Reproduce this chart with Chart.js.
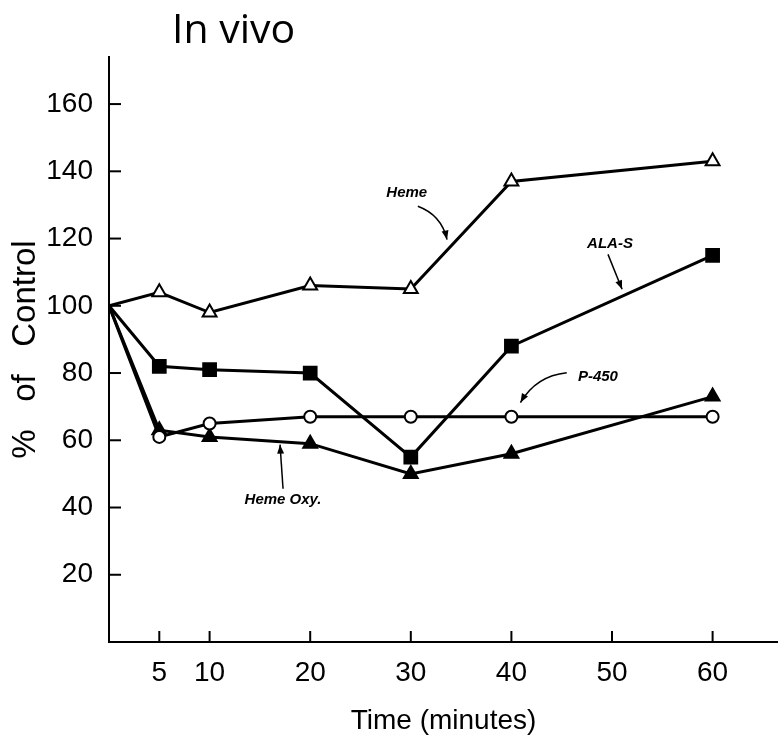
<!DOCTYPE html>
<html>
<head>
<meta charset="utf-8">
<script src="https://cdn.jsdelivr.net/npm/chart.js@4.4.1/dist/chart.umd.min.js"></script>
<style>
  html, body { margin: 0; padding: 0; background: #fff; }
  #wrap { position: relative; width: 778px; height: 738px; }
  #title {
    position: absolute; left: 172px; top: 7px;
    font: 41px "Open Sans", sans-serif; line-height: 41px; color: #000;
  }
</style>
</head>
<body>
<div id="wrap">
  <canvas id="chart" width="778" height="738"></canvas>
  <div id="title">In vivo</div>
</div>
<script>
  "use strict";

  // data
  var times = [0, 5, 10, 20, 30, 40, 60];
  var heme = [100, 104, 98, 106, 105, 137, 143];
  var alaS = [100, 82, 81, 80, 55, 88, 115];
  var p450 = [100, 61, 65, 67, 67, 67, 67];
  var hemeOxy = [100, 63, 61, 59, 50, 56, 73];

  var xTicks = [5, 10, 20, 30, 40, 50, 60];
  var yTicks = [20, 40, 60, 80, 100, 120, 140, 160];

  // label text with arrow start / tip, in data units
  var notes = [
    { text: "Heme", at: [29.6, 133.7], from: [30.7, 129.6], to: [33.6, 119.7], bend: -12 },
    { text: "ALA-S", at: [49.8, 118.3], from: [49.6, 115.3], to: [51.0, 104.9], bend: 0 },
    { text: "P-450", at: [48.6, 78.9], from: [45.5, 80.1], to: [40.9, 71.2], bend: 14 },
    { text: "Heme Oxy.", at: [17.3, 42.3], from: [17.3, 45.6], to: [17.0, 58.7], bend: 0 }
  ];

  var toPoints = function(vals) {
    return times.map(function(t, i) { return { x: t, y: vals[i] }; });
  };

  var series = function(label, vals, style, fill, radius) {
    return {
      label: label,
      data: toPoints(vals),
      borderColor: "#000",
      borderWidth: 3,
      pointStyle: style,
      // no marker on the shared starting point
      pointRadius: times.map(function(t, i) { return i === 0 ? 0 : radius; }),
      pointBackgroundColor: fill,
      pointBorderColor: "#000",
      pointBorderWidth: 2,
      tension: 0
    };
  };

  var arrowHead = function(ctx, x, y, ang) {
    var len = 9, w = 3.5;
    ctx.beginPath();
    ctx.moveTo(x, y);
    ctx.lineTo(x - len * Math.cos(ang) + w * Math.sin(ang), y - len * Math.sin(ang) - w * Math.cos(ang));
    ctx.lineTo(x - len * Math.cos(ang) - w * Math.sin(ang), y - len * Math.sin(ang) + w * Math.cos(ang));
    ctx.closePath();
    ctx.fill();
  };

  // inward tick marks and the hand-written labels
  var extras = {
    id: "extras",
    afterDraw: function(chart) {
      var ctx = chart.ctx;
      var xs = chart.scales.x, ys = chart.scales.y;
      var area = chart.chartArea;
      ctx.save();
      ctx.strokeStyle = "#000";
      ctx.fillStyle = "#000";
      ctx.lineWidth = 2;
      yTicks.forEach(function(v) {
        var py = ys.getPixelForValue(v);
        ctx.beginPath();
        ctx.moveTo(area.left, py);
        ctx.lineTo(area.left + 12, py);
        ctx.stroke();
      });
      xTicks.forEach(function(v) {
        var px = xs.getPixelForValue(v);
        ctx.beginPath();
        ctx.moveTo(px, area.bottom);
        ctx.lineTo(px, area.bottom - 11);
        ctx.stroke();
      });

      ctx.font = 'italic bold 15px "Liberation Sans", sans-serif';
      ctx.textAlign = "center";
      ctx.textBaseline = "middle";
      ctx.lineWidth = 1.5;
      notes.forEach(function(n) {
        ctx.fillText(n.text, xs.getPixelForValue(n.at[0]), ys.getPixelForValue(n.at[1]));
        var x1 = xs.getPixelForValue(n.from[0]), y1 = ys.getPixelForValue(n.from[1]);
        var x2 = xs.getPixelForValue(n.to[0]), y2 = ys.getPixelForValue(n.to[1]);
        var mx = (x1 + x2) / 2, my = (y1 + y2) / 2;
        var dx = x2 - x1, dy = y2 - y1, d = Math.sqrt(dx * dx + dy * dy);
        var cx = mx - dy / d * n.bend, cy = my + dx / d * n.bend;
        ctx.beginPath();
        ctx.moveTo(x1, y1);
        ctx.quadraticCurveTo(cx, cy, x2, y2);
        ctx.stroke();
        arrowHead(ctx, x2, y2, Math.atan2(y2 - cy, x2 - cx));
      });
      ctx.restore();
    }
  };

  new Chart("chart", {
    type: "line",
    data: {
      datasets: [
        series("Heme", heme, "triangle", "#fff", 8),
        series("ALA-S", alaS, "rect", "#000", 9),
        series("P-450", p450, "circle", "#fff", 6),
        series("Heme Oxy.", hemeOxy, "triangle", "#000", 8)
      ]
    },
    options: {
      responsive: false,
      animation: false,
      layout: {
        autoPadding: false,
        padding: { top: 57, right: 0, left: 0, bottom: 0 }
      },
      plugins: {
        legend: { display: false },
        tooltip: { enabled: false },
        title: { display: false }
      },
      scales: {
        x: {
          type: "linear",
          min: 0,
          max: 66.5,
          afterBuildTicks: function(scale) {
            scale.ticks = xTicks.map(function(v) { return { value: v }; });
          },
          afterFit: function(scale) {
            scale.height = 96;
            scale.paddingLeft = 0;
            scale.paddingRight = 0;
          },
          grid: { display: false, drawTicks: false },
          border: { display: true, color: "#000", width: 2 },
          ticks: {
            color: "#000",
            padding: 14,
            maxRotation: 0,
            font: { family: '"Liberation Sans", sans-serif', size: 28 }
          },
          title: {
            display: true,
            text: "Time (minutes)",
            color: "#000",
            padding: { top: 2, bottom: 0 },
            font: { family: '"Liberation Sans", sans-serif', size: 28 }
          }
        },
        y: {
          min: 0,
          max: 174,
          afterBuildTicks: function(scale) {
            scale.ticks = yTicks.map(function(v) { return { value: v }; });
          },
          afterFit: function(scale) { scale.width = 109; },
          grid: { display: false, drawTicks: false },
          border: { display: true, color: "#000", width: 2 },
          ticks: {
            color: "#000",
            padding: 16,
            font: { family: '"Liberation Sans", sans-serif', size: 28 }
          },
          title: {
            display: true,
            text: "%   of   Control",
            color: "#000",
            padding: { top: 6, bottom: 0 },
            font: { family: '"Liberation Sans", sans-serif', size: 33 }
          }
        }
      }
    },
    plugins: [extras]
  });
</script>
</body>
</html>
